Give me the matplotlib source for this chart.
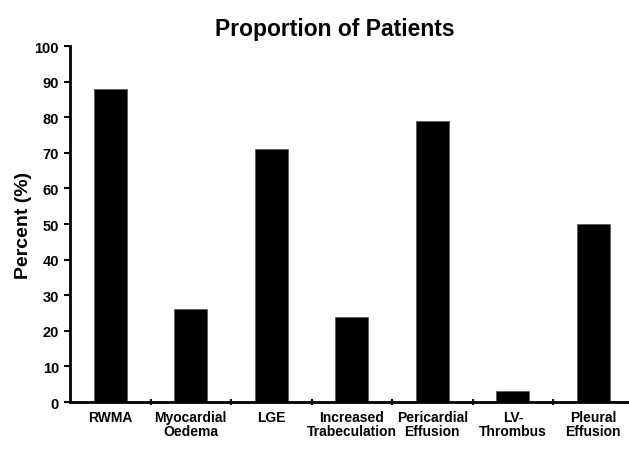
import matplotlib
matplotlib.use("Agg")
import matplotlib.pyplot as plt
import numpy as np

categories = ["RWMA", "Myocardial\nOedema", "LGE", "Increased\nTrabeculation",
              "Pericardial\nEffusion", "LV-\nThrombus", "Pleural\nEffusion"]
percent = [88, 26, 71, 24, 79, 3, 50]

plt.rcParams['font.family'] = ['Liberation Sans', 'DejaVu Sans']
plt.rcParams['font.weight'] = 'bold'

fig = plt.figure(figsize=(6.29, 4.52), dpi=100)
ax = fig.add_axes([0.1113, 0.1084, 0.896, 0.7876])

x = np.arange(len(categories))
ax.bar(x, percent, width=0.41, color='black', edgecolor='#555555', linewidth=0.5)

ax.set_xlim(-0.5, len(categories) - 0.5)
ax.set_ylim(0, 100)
ax.set_yticks(range(0, 101, 10))
ax.set_xticks(x)
ax.set_xticklabels(categories, fontsize=10, fontweight='bold', linespacing=1.0)
ax.set_xticks(np.arange(0.5, len(categories) - 0.5, 1), minor=True)
ax.tick_params(axis='x', which='major', length=0, pad=6)
ax.tick_params(axis='x', which='minor', length=4, width=1.5, direction='inout')
ax.tick_params(axis='y', length=4, width=1.5, labelsize=10.5, pad=4)
for lab in ax.get_yticklabels():
    lab.set_fontweight('bold')

ax.spines['top'].set_visible(False)
ax.spines['right'].set_visible(False)
ax.spines['left'].set_linewidth(2)
ax.spines['bottom'].set_linewidth(2)

ax.set_ylabel('Percent (%)', fontsize=14, fontweight='bold')
ax.yaxis.set_label_coords(-0.067, 0.5)
fig.text(0.533, 0.935, 'Proportion of Patients', fontsize=16.5, fontweight='bold',
         ha='center', va='center')

fig.savefig('out.png', dpi=100)
plt.close(fig)
